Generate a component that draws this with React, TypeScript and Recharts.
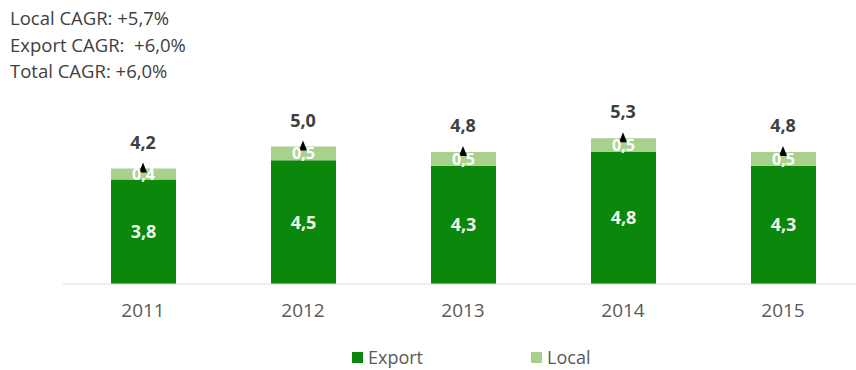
import React from 'react';
import { ComposedChart, Bar, Line, XAxis, YAxis, LabelList, Legend } from 'recharts';

const years = ['2011', '2012', '2013', '2014', '2015'];
const exportValues = [3.8, 4.5, 4.3, 4.8, 4.3];
const localValues = [0.4, 0.5, 0.5, 0.5, 0.5];
const totalValues = [4.2, 5.0, 4.8, 5.3, 4.8];
const cagrLines = ['Local CAGR: +5,7%', 'Export CAGR:  +6,0%', 'Total CAGR: +6,0%'];

const data = years.map((year, i) => ({
  year,
  Export: exportValues[i],
  Local: localValues[i],
  total: totalValues[i],
}));

const fmt = (v: any) => Number(v).toFixed(1).replace('.', ',');
const FONT = '"Open Sans", "DejaVu Sans", sans-serif';

const Triangle = (props: any) => {
  const { cx, cy } = props;
  if (cx == null || cy == null) return null;
  return <path d={`M${cx},${cy - 6} L${cx + 4},${cy + 4} L${cx - 4},${cy + 4} Z`} fill="#000" />;
};

const LegendContent = (props: any) => {
  const items = [
    { name: 'Export', color: '#0b870b' },
    { name: 'Local', color: '#a9d18e' },
  ];
  return (
    <div style={{ display: 'flex', alignItems: 'center', height: 16, fontFamily: FONT, fontSize: 18, lineHeight: '16px', color: '#595959' }}>
      {items.map((it, i) => (
        <div key={it.name} style={{ display: 'flex', alignItems: 'center', marginRight: i === 0 ? 108 : 0 }}>
          <span style={{ display: 'inline-block', width: 11, height: 11, background: it.color, marginRight: 5 }} />
          <span>{it.name}</span>
        </div>
      ))}
    </div>
  );
};

export default function App() {
  return (
    <div style={{ position: 'fixed', left: 0, top: 0, width: 856, height: 370, overflow: 'hidden', background: '#fff' }}>
      <div style={{ position: 'absolute', left: 10, top: 5, fontFamily: FONT, fontSize: 18.5, color: '#404040', lineHeight: '26.5px', whiteSpace: 'pre', zIndex: 2 }}>
        {cagrLines.map((l) => (
          <div key={l}>{l}</div>
        ))}
      </div>
      <ComposedChart width={864} height={370} data={data} margin={{ top: 103, right: 1, bottom: 56, left: 63 }} barSize={65}>
        <XAxis
          dataKey="year"
          axisLine={{ stroke: '#d9d9d9' }}
          tickLine={false}
          tick={{ fill: '#595959', fontSize: 19, fontFamily: FONT }}
          tickMargin={14}
          height={30}
        />
        <YAxis hide domain={[0, 6]} />
        <Legend content={<LegendContent />} verticalAlign="top" wrapperStyle={{ position: 'absolute', left: 352, top: 349, width: 'auto', height: 'auto' }} />
        <Bar dataKey="Export" stackId="a" fill="#0b870b" isAnimationActive={false}>
          <LabelList dataKey="Export" position="center" formatter={fmt} fill="#eef8e8" fontSize={18} fontWeight="bold" fontFamily={FONT} />
        </Bar>
        <Bar dataKey="Local" stackId="a" fill="#a9d18e" isAnimationActive={false}>
          <LabelList dataKey="Local" position="center" formatter={fmt} fill="#ffffff" fontSize={16} fontWeight="bold" fontFamily={FONT} />
        </Bar>
        <Line dataKey="total" stroke="none" dot={<Triangle />} activeDot={false} isAnimationActive={false} legendType="none">
          <LabelList dataKey="total" position="top" offset={20} formatter={fmt} fill="#404040" fontSize={18} fontWeight="bold" fontFamily={FONT} />
        </Line>
      </ComposedChart>
    </div>
  );
}
